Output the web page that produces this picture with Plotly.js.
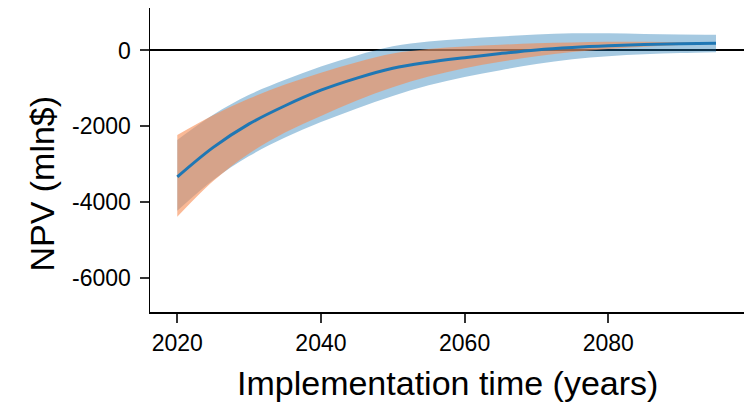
<!DOCTYPE html>
<html>
<head>
<meta charset="utf-8">
<script src="https://cdn.plot.ly/plotly-3.0.1.min.js"></script>
<style>html,body{margin:0;padding:0;background:#fff;}#chart{width:752px;height:403px;}</style>
</head>
<body>
<div id="chart"></div>
<script>
// Data (NPV in mln$)
const years = [2020, 2025, 2030, 2035, 2040, 2045, 2050, 2055, 2060, 2065, 2070, 2075, 2080, 2085, 2090, 2095];
const median = [-3340, -2560, -1940, -1460, -1050, -730, -470, -310, -190, -80, 15, 80, 125, 155, 175, 190];
const blueUpper = [-2364, -1700, -1173, -776, -423, -130, 110, 238, 310, 370, 425, 455, 455, 435, 420, 415];
const blueLower = [-4235, -3420, -2790, -2300, -1890, -1530, -1200, -920, -700, -520, -360, -230, -150, -100, -70, -45];
const orangeUpper = [-2231, -1710, -1270, -900, -590, -310, -80, 40, 106, 150, 190, 212, 228, 232, 220, 205];
const orangeLower = [-4394, -3450, -2720, -2170, -1730, -1320, -970, -690, -470, -300, -150, -40, 40, 100, 145, 175];
const xTicks = [2020, 2040, 2060, 2080];
const yTicks = [-6000, -4000, -2000, 0];

const FONT = 'Liberation Sans, Arial, sans-serif';

const traces = [
  {x: years, y: blueLower, mode: 'lines', line: {width: 0, shape: 'spline'}, hoverinfo: 'skip', showlegend: false},
  {x: years, y: blueUpper, mode: 'lines', line: {width: 0, shape: 'spline'}, fill: 'tonexty',
   fillcolor: 'rgba(31,119,180,0.4)', hoverinfo: 'skip', showlegend: false},
  {x: years, y: orangeLower, mode: 'lines', line: {width: 0, shape: 'spline'}, hoverinfo: 'skip', showlegend: false},
  {x: years, y: orangeUpper, mode: 'lines', line: {width: 0, shape: 'spline'}, fill: 'tonexty',
   fillcolor: 'rgba(247,138,80,0.6)', hoverinfo: 'skip', showlegend: false},
  {x: years, y: median, mode: 'lines', line: {color: '#1f77b4', width: 3, shape: 'spline'}, showlegend: false}
];

const axisCommon = {
  showgrid: false,
  showline: true, linecolor: '#000', linewidth: 1.5,
  ticks: 'outside', ticklen: 9, tickwidth: 2, tickcolor: '#333',
  tickfont: {family: FONT, size: 23, color: '#000'}
};

const layout = {
  width: 752, height: 403,
  margin: {l: 150, r: 8, t: 8, b: 91},
  paper_bgcolor: '#fff', plot_bgcolor: '#fff',
  showlegend: false,
  xaxis: Object.assign({}, axisCommon, {
    range: [2016.2, 2098.9], tickvals: xTicks, ticktext: xTicks.map(String),
    zeroline: false, ticklabelstandoff: 1
  }),
  yaxis: Object.assign({}, axisCommon, {
    range: [-6909, 1122], tickvals: yTicks, ticktext: yTicks.map(String),
    zeroline: true, zerolinecolor: '#000', zerolinewidth: 2, ticklabelstandoff: 4
  }),
  annotations: [
    {text: 'Implementation time (years)', xref: 'paper', yref: 'paper', x: 0.5, y: -0.2334,
     xanchor: 'center', yanchor: 'middle', showarrow: false,
     font: {family: FONT, size: 34, color: '#000'}},
    {text: 'NPV (mln$)', xref: 'paper', yref: 'paper', x: -0.181, y: 0.424,
     xanchor: 'center', yanchor: 'middle', textangle: -90, showarrow: false,
     font: {family: FONT, size: 34, color: '#000'}}
  ]
};

Plotly.newPlot('chart', traces, layout, {displayModeBar: false, staticPlot: true});
</script>
</body>
</html>
